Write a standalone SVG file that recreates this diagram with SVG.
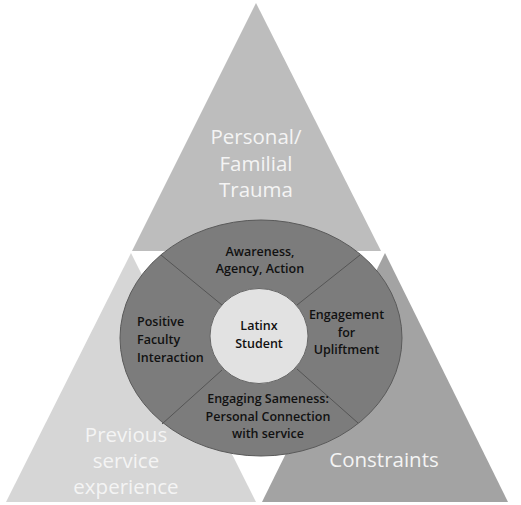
<svg xmlns="http://www.w3.org/2000/svg" width="521" height="505" viewBox="0 0 521 505">
<style>
.big{font-family:"Open Sans","Liberation Sans",sans-serif;font-size:20.5px;fill:#f4f4f4;text-anchor:middle}
.in{font-family:"Open Sans","Liberation Sans",sans-serif;font-size:12.5px;font-weight:600;fill:#111}
.c{text-anchor:middle}
.div{stroke:#555;stroke-width:1}
</style>
<rect width="521" height="505" fill="#fff"/>
<g id="top-triangle">
<polygon points="256,3 132,251 381,251" fill="#bdbdbd"/>
<text class="big" x="256" y="144">Personal/</text>
<text class="big" x="256" y="171">Familial</text>
<text class="big" x="256" y="197">Trauma</text>
</g>
<g id="left-triangle">
<polygon points="131,253 6,502 256,502" fill="#d6d6d6"/>
</g>
<g id="right-triangle">
<polygon points="385,253 262,502 508,502" fill="#a3a3a3"/>
<text class="big" x="384" y="467">Constraints</text>
</g>
<g id="ring">
<ellipse cx="261" cy="338" rx="141" ry="118" fill="#7c7c7c" stroke="#5a5a5a" stroke-width="1"/>
</g>
<g id="dividers">
<line class="div" x1="161" y1="255" x2="222" y2="305"/>
<line class="div" x1="360" y1="255" x2="297" y2="305"/>
<line class="div" x1="162" y1="424" x2="222" y2="370"/>
<line class="div" x1="358" y1="423" x2="297" y2="369"/>
</g>
<g id="center">
<ellipse cx="259" cy="336" rx="49" ry="47.5" fill="#e2e2e2" stroke="#666" stroke-width="1"/>
<text class="in c" x="259" y="330">Latinx</text>
<text class="in c" x="259" y="348">Student</text>
</g>
<g id="awareness">
<text class="in c" x="260" y="256">Awareness,</text>
<text class="in c" x="260" y="273">Agency, Action</text>
</g>
<g id="faculty">
<text class="in" x="137" y="326">Positive</text>
<text class="in" x="137" y="344">Faculty</text>
<text class="in" x="137" y="362">Interaction</text>
</g>
<g id="engagement">
<text class="in c" x="346.5" y="319">Engagement</text>
<text class="in c" x="346.5" y="337">for</text>
<text class="in c" x="346.5" y="354">Upliftment</text>
</g>
<g id="sameness">
<text class="in c" x="268" y="403">Engaging Sameness:</text>
<text class="in c" x="268" y="421">Personal Connection</text>
<text class="in c" x="268" y="438">with service</text>
</g>
<g id="previous-text">
<text class="big" x="126" y="442" fill="#f7f7f7" font-size="19.5">Previous</text>
<text class="big" x="126" y="468" fill="#f7f7f7" font-size="19.5">service</text>
<text class="big" x="126" y="494" fill="#f7f7f7" font-size="19.5">experience</text>
</g>
</svg>
